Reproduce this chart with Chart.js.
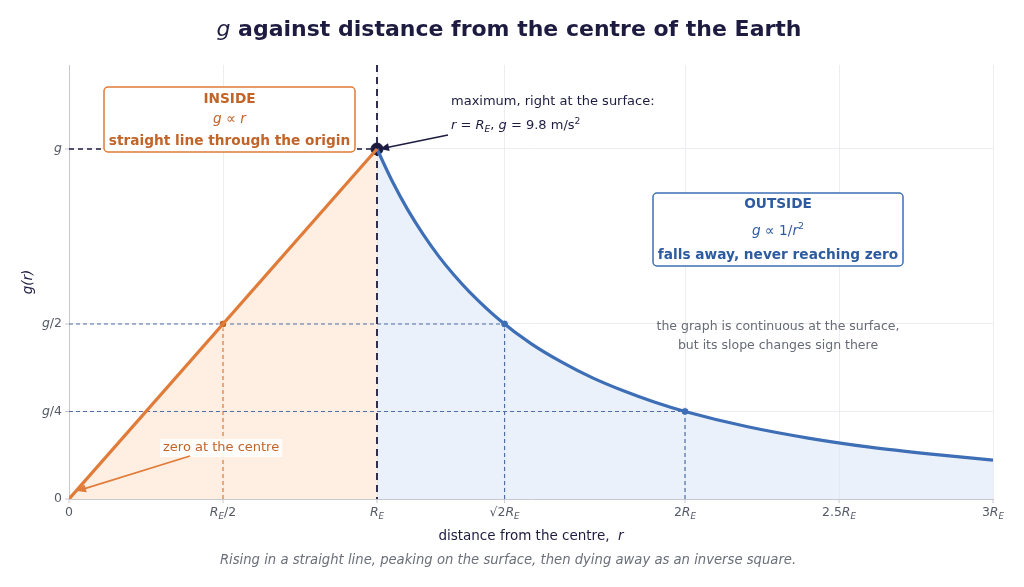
<!DOCTYPE html>
<html>
<head>
<meta charset="utf-8">
<script src="https://cdn.jsdelivr.net/npm/chart.js@4.4.1/dist/chart.umd.min.js"></script>
<style>
  html, body { margin: 0; padding: 0; background: #fff; }
  #wrap { width: 1024px; height: 587px; }
</style>
</head>
<body>
<div id="wrap"><canvas id="gChart" width="1024" height="587"></canvas></div>
<script>
// ===== data (r in units of R_E, g in units of surface g) =====
const insideR = [0, 1];
const insideG = [0, 1];

const outsideR = [1, 1.05, 1.1, 1.15, 1.2, 1.25, 1.3, 1.4, 1.5, 1.6, 1.7, 1.8, 1.9, 2, 2.2, 2.4, 2.6, 2.8, 3];
const outsideG = [1, 0.907, 0.826, 0.756, 0.694, 0.64, 0.592, 0.51, 0.444, 0.391, 0.346, 0.309, 0.277, 0.25, 0.207, 0.174, 0.148, 0.128, 0.111];

const markR = [0.5, 1, 1.4142, 2];
const markG = [0.5, 1, 0.5, 0.25];

const xTicks = [0, 0.5, 1, 1.4142, 2, 2.5, 3];
const xTickLabels = [
    [{ t: '0' }],
    [{ t: 'R', s: 'i' }, { t: 'E', s: 'i sub' }, { t: '/2' }],
    [{ t: 'R', s: 'i' }, { t: 'E', s: 'i sub' }],
    [{ t: '\u221A2' }, { t: 'R', s: 'i' }, { t: 'E', s: 'i sub' }],
    [{ t: '2' }, { t: 'R', s: 'i' }, { t: 'E', s: 'i sub' }],
    [{ t: '2.5' }, { t: 'R', s: 'i' }, { t: 'E', s: 'i sub' }],
    [{ t: '3' }, { t: 'R', s: 'i' }, { t: 'E', s: 'i sub' }]
];
const yTicks = [0, 0.25, 0.5, 1];
const yTickLabels = [
    [{ t: '0' }],
    [{ t: 'g', s: 'i' }, { t: '/4' }],
    [{ t: 'g', s: 'i' }, { t: '/2' }],
    [{ t: 'g', s: 'i' }]
];

// ===== colours =====
const NAVY = '#1d1b3f';
const ORANGE = '#e07b39';
const ORANGE_TXT = '#c0642a';
const BLUE = '#3e6fb6';
const BLUE_TXT = '#2e5b9f';
const GUIDE = '#4f6fa6';
const FONT = '"DejaVu Sans", sans-serif';

// ===== rich text helper =====
function has(s, k) { return (s || '').split(' ').includes(k); }
function segFont(s, size) {
    let sz = (has(s, 'sub') || has(s, 'sup')) ? size * 0.7 : size;
    return (has(s, 'i') ? 'italic ' : '') + (has(s, 'b') ? 'bold ' : '') + sz + 'px ' + FONT;
}
function drawRich(ctx, segs, x, y, align, size, color) {
    ctx.save();
    ctx.textBaseline = 'middle';
    ctx.textAlign = 'left';
    let w = 0;
    segs.forEach(sg => { ctx.font = segFont(sg.s, size); w += ctx.measureText(sg.t).width; });
    let cx = x;
    if (align === 'center') cx = x - w / 2;
    if (align === 'right') cx = x - w;
    ctx.fillStyle = color;
    segs.forEach(sg => {
        ctx.font = segFont(sg.s, size);
        let dy = 0;
        if (has(sg.s, 'sub')) dy = size * 0.3;
        if (has(sg.s, 'sup')) dy = -size * 0.35;
        ctx.fillText(sg.t, cx, y + dy);
        cx += ctx.measureText(sg.t).width;
    });
    ctx.restore();
    return w;
}
function roundBox(ctx, x, y, w, h, r, stroke) {
    ctx.save();
    ctx.beginPath();
    ctx.roundRect(x, y, w, h, r);
    ctx.fillStyle = '#fff';
    ctx.fill();
    ctx.lineWidth = 1.5;
    ctx.strokeStyle = stroke;
    ctx.stroke();
    ctx.restore();
}
function arrow(ctx, x1, y1, x2, y2, color, width) {
    ctx.save();
    ctx.strokeStyle = color;
    ctx.fillStyle = color;
    ctx.lineWidth = width;
    const a = Math.atan2(y2 - y1, x2 - x1);
    const hl = 9, hw = 4;
    ctx.beginPath();
    ctx.moveTo(x1, y1);
    ctx.lineTo(x2 - Math.cos(a) * hl * 0.8, y2 - Math.sin(a) * hl * 0.8);
    ctx.stroke();
    ctx.beginPath();
    ctx.moveTo(x2, y2);
    ctx.lineTo(x2 - Math.cos(a) * hl - Math.sin(a) * hw, y2 - Math.sin(a) * hl + Math.cos(a) * hw);
    ctx.lineTo(x2 - Math.cos(a) * hl + Math.sin(a) * hw, y2 - Math.sin(a) * hl - Math.cos(a) * hw);
    ctx.closePath();
    ctx.fill();
    ctx.restore();
}
function dashLine(ctx, x1, y1, x2, y2, color, width, dash) {
    ctx.save();
    ctx.strokeStyle = color;
    ctx.lineWidth = width;
    ctx.setLineDash(dash);
    ctx.beginPath();
    ctx.moveTo(x1, y1);
    ctx.lineTo(x2, y2);
    ctx.stroke();
    ctx.restore();
}

// ===== guide lines under the curves =====
const guidePlugin = {
    id: 'guides',
    beforeDatasetsDraw(chart) {
        const { ctx, chartArea: a, scales: { x, y } } = chart;
        // g level up to the surface
        dashLine(ctx, x.getPixelForValue(0), y.getPixelForValue(1), x.getPixelForValue(1), y.getPixelForValue(1), NAVY, 1.3, [5, 4]);
        // g/2 and g/4 levels
        dashLine(ctx, x.getPixelForValue(0), y.getPixelForValue(0.5), x.getPixelForValue(markR[2]), y.getPixelForValue(0.5), GUIDE, 1.2, [4, 3]);
        dashLine(ctx, x.getPixelForValue(0), y.getPixelForValue(0.25), x.getPixelForValue(markR[3]), y.getPixelForValue(0.25), GUIDE, 1.2, [4, 3]);
        // drops to the axis
        dashLine(ctx, x.getPixelForValue(markR[0]), y.getPixelForValue(0), x.getPixelForValue(markR[0]), y.getPixelForValue(0.5), ORANGE, 1.2, [4, 3]);
        dashLine(ctx, x.getPixelForValue(markR[2]), y.getPixelForValue(0), x.getPixelForValue(markR[2]), y.getPixelForValue(0.5), GUIDE, 1.2, [4, 3]);
        dashLine(ctx, x.getPixelForValue(markR[3]), y.getPixelForValue(0), x.getPixelForValue(markR[3]), y.getPixelForValue(0.25), GUIDE, 1.2, [4, 3]);
        // surface r = R_E
        dashLine(ctx, x.getPixelForValue(1), a.top, x.getPixelForValue(1), a.bottom, NAVY, 1.8, [7, 5]);
    }
};

// ===== labels, ticks and notes =====
const notePlugin = {
    id: 'notes',
    afterDraw(chart) {
        const { ctx, chartArea: a, scales: { x, y } } = chart;

        // title
        drawRich(ctx, [{ t: 'g', s: 'i' }, { t: ' against distance from the centre of the Earth', s: 'b' }], 509, 30, 'center', 22, NAVY);

        // tick marks and tick labels
        ctx.save();
        ctx.strokeStyle = '#c8c8d0';
        ctx.lineWidth = 1;
        xTicks.forEach((v, i) => {
            const px = x.getPixelForValue(v);
            ctx.beginPath(); ctx.moveTo(px, a.bottom); ctx.lineTo(px, a.bottom + 4); ctx.stroke();
            drawRich(ctx, xTickLabels[i], px, a.bottom + 14, 'center', 12.5, '#555a66');
        });
        yTicks.forEach((v, i) => {
            const py = y.getPixelForValue(v);
            ctx.beginPath(); ctx.moveTo(a.left - 4, py); ctx.lineTo(a.left, py); ctx.stroke();
            drawRich(ctx, yTickLabels[i], a.left - 7, py, 'right', 12.5, '#555a66');
        });
        ctx.restore();

        // axis titles
        drawRich(ctx, [{ t: 'distance from the centre,  ' }, { t: 'r', s: 'i' }], 531, 536, 'center', 13.5, NAVY);
        ctx.save();
        ctx.translate(28, (a.top + a.bottom) / 2);
        ctx.rotate(-Math.PI / 2);
        drawRich(ctx, [{ t: 'g(r)', s: 'i' }], 0, 0, 'center', 13.5, NAVY);
        ctx.restore();

        // caption
        drawRich(ctx, [{ t: 'Rising in a straight line, peaking on the surface, then dying away as an inverse square.', s: 'i' }], 508, 561, 'center', 13.2, '#6b6f7a');

        // INSIDE box
        roundBox(ctx, 104, 87, 251, 65, 4, ORANGE);
        drawRich(ctx, [{ t: 'INSIDE', s: 'b' }], 229.5, 99, 'center', 13.7, ORANGE_TXT);
        drawRich(ctx, [{ t: 'g \u221D r', s: 'i' }], 229.5, 119, 'center', 13.7, ORANGE_TXT);
        drawRich(ctx, [{ t: 'straight line through the origin', s: 'b' }], 229.5, 141, 'center', 13.7, ORANGE_TXT);

        // OUTSIDE box
        roundBox(ctx, 653, 193, 250, 73, 4, BLUE);
        drawRich(ctx, [{ t: 'OUTSIDE', s: 'b' }], 778, 204, 'center', 13.7, BLUE_TXT);
        drawRich(ctx, [{ t: 'g \u221D ', s: 'i' }, { t: '1/' }, { t: 'r', s: 'i' }, { t: '2', s: 'sup' }], 778, 231, 'center', 13.7, BLUE_TXT);
        drawRich(ctx, [{ t: 'falls away, never reaching zero', s: 'b' }], 778, 255, 'center', 13.7, BLUE_TXT);

        // maximum note
        const sx = x.getPixelForValue(1), sy = y.getPixelForValue(1);
        drawRich(ctx, [{ t: 'maximum, right at the surface:' }], 451, 102, 'left', 13, NAVY);
        drawRich(ctx, [{ t: 'r', s: 'i' }, { t: ' = ' }, { t: 'R', s: 'i' }, { t: 'E', s: 'i sub' }, { t: ', ' }, { t: 'g', s: 'i' }, { t: ' = 9.8 m/s' }, { t: '2', s: 'sup' }], 451, 126, 'left', 13, NAVY);
        arrow(ctx, 448, 135, sx + 3, sy, NAVY, 1.6);

        // continuity note
        drawRich(ctx, [{ t: 'the graph is continuous at the surface,' }], 778, 327, 'center', 12.5, '#676b76');
        drawRich(ctx, [{ t: 'but its slope changes sign there' }], 778, 346, 'center', 12.5, '#676b76');

        // zero at the centre
        ctx.save();
        ctx.font = '13px ' + FONT;
        const zw = ctx.measureText('zero at the centre').width;
        ctx.fillStyle = 'rgba(255,255,255,0.9)';
        ctx.fillRect(160, 439, zw + 6, 18);
        ctx.restore();
        drawRich(ctx, [{ t: 'zero at the centre' }], 163, 448, 'left', 13, ORANGE_TXT);
        arrow(ctx, 190, 456, x.getPixelForValue(0) + 8, y.getPixelForValue(0) - 8, ORANGE, 1.6);
    }
};

const toPts = (xs, ys) => xs.map((v, i) => ({ x: v, y: ys[i] }));

const ctx = document.getElementById('gChart').getContext('2d');
const gChart = new Chart(ctx, {
    type: 'line',
    data: {
        datasets: [
            {
                label: 'inside',
                data: toPts(insideR, insideG),
                borderColor: ORANGE,
                borderWidth: 3.2,
                backgroundColor: 'rgba(253, 232, 214, 0.7)',
                fill: 'origin',
                pointRadius: 0,
                tension: 0
            },
            {
                label: 'outside',
                data: toPts(outsideR, outsideG),
                borderColor: BLUE,
                borderWidth: 3.2,
                backgroundColor: 'rgba(220, 231, 248, 0.6)',
                fill: 'origin',
                pointRadius: 0,
                cubicInterpolationMode: 'monotone'
            },
            {
                label: 'marks',
                data: toPts(markR, markG),
                showLine: false,
                pointRadius: [4, 6, 4, 4],
                pointBackgroundColor: [ORANGE_TXT, NAVY, BLUE, BLUE],
                pointBorderColor: ['#fff', NAVY, '#fff', '#fff'],
                pointBorderWidth: [1, 1, 1, 1]
            }
        ]
    },
    options: {
        responsive: false,
        animation: false,
        layout: { padding: { left: 69, right: 31, top: 65, bottom: 88 } },
        scales: {
            x: {
                type: 'linear',
                min: 0,
                max: 3,
                afterBuildTicks: s => { s.ticks = xTicks.map(v => ({ value: v })); },
                ticks: { display: false },
                grid: { color: '#ececf1', drawTicks: false },
                border: { display: true, color: '#c8c8d0' }
            },
            y: {
                type: 'linear',
                min: 0,
                max: 1.24,
                afterBuildTicks: s => { s.ticks = yTicks.map(v => ({ value: v })); },
                ticks: { display: false },
                grid: { color: '#ececf1', drawTicks: false },
                border: { display: true, color: '#c8c8d0' }
            }
        },
        plugins: {
            legend: { display: false },
            tooltip: { enabled: false },
            filler: { drawTime: 'beforeDatasetsDraw' }
        }
    },
    plugins: [guidePlugin, notePlugin]
});
</script>
</body>
</html>
